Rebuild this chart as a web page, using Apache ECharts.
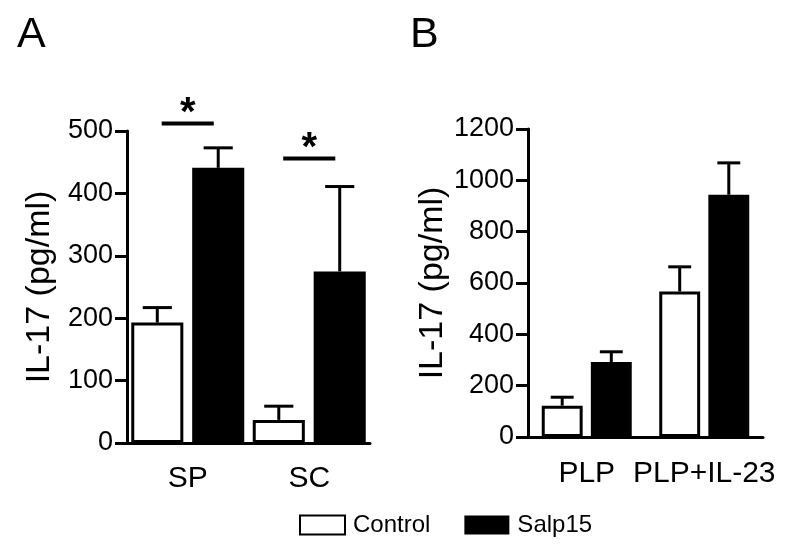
<!DOCTYPE html>
<html>
<head>
<meta charset="utf-8">
<script src="https://cdn.jsdelivr.net/npm/echarts@6/dist/echarts.min.js"></script>
<style>
html,body{margin:0;padding:0;background:#fff;}
#chart{width:800px;height:558px;}
</style>
</head>
<body>
<div id="chart"></div>
<script>
// ---- data ----
const catsA = ['SP', 'SC'];
const controlA = [193, 37];
const controlErrA = [24, 22];
const salpA = [441, 275];
const salpErrA = [32, 136];

const catsB = ['PLP', 'PLP+IL-23'];
const controlB = [122, 567];
const controlErrB = [33, 96];
const salpB = [292, 944];
const salpErrB = [40, 124];

const yMaxA = 500, yStepA = 100;
const yMaxB = 1200, yStepB = 200;

// significance marks in panel A: category index, bar level, star level
const sigCatA = [0, 1];
const sigLineA = [512, 456];
const sigStarA = [542, 486];

const seriesNames = ['Control', 'Salp15'];
const panelLabels = ['A', 'B'];
const yTitle = 'IL-17 (pg/ml)';

// ---- styles ----
const FONT = 'Liberation Sans, Arial, Helvetica, sans-serif';
const gapA = {cat: 0.07, bar: 0.17};
const gapB = {cat: 0.234, bar: 0.20};

function errRender(side, gap) {
  return function (params, api) {
    const cat = api.value(0), mean = api.value(1), err = api.value(2);
    const base = api.coord([cat, mean]);
    const top = api.coord([cat, mean + err]);
    const catW = api.size([1, 0])[0];
    const barW = catW * (1 - gap.cat) / (2 + gap.bar);
    const x = base[0] + side * barW * (1 + gap.bar) / 2;
    const capHalf = barW * 0.28;
    return {
      type: 'group',
      children: [
        {type: 'line', shape: {x1: x, y1: base[1], x2: x, y2: top[1]}, style: {stroke: '#000', lineWidth: 3}},
        {type: 'line', shape: {x1: x - capHalf, y1: top[1], x2: x + capHalf, y2: top[1]}, style: {stroke: '#000', lineWidth: 3}}
      ]
    };
  };
}

function sigRender(gap) {
  return function (params, api) {
    const cat = api.value(0);
    const p = api.coord([cat, api.value(1)]);
    const s = api.coord([cat, api.value(2)]);
    const catW = api.size([1, 0])[0];
    const barW = catW * (1 - gap.cat) / (2 + gap.bar);
    return {
      type: 'group',
      children: [
        {type: 'line', shape: {x1: p[0] - barW / 2, y1: p[1], x2: p[0] + barW / 2, y2: p[1]}, style: {stroke: '#000', lineWidth: 4}},
        {type: 'text', x: p[0], y: s[1] + 9, style: {text: '*', fontSize: 40, fontWeight: 'bold', fontFamily: FONT, fill: '#000', align: 'center', verticalAlign: 'middle'}}
      ]
    };
  };
}

function xAxisCfg(grid, cats, margin) {
  return {
    type: 'category', gridIndex: grid, data: cats,
    axisLine: {lineStyle: {color: '#000', width: 3}},
    axisTick: {show: false},
    axisLabel: {color: '#000', fontSize: 30, fontFamily: FONT, margin: margin, interval: 0}
  };
}
function yAxisCfg(grid, max, step, nameGap) {
  return {
    type: 'value', gridIndex: grid, min: 0, max: max, interval: step,
    name: yTitle, nameLocation: 'middle', nameGap: nameGap,
    nameTextStyle: {fontSize: 34, color: '#000', fontFamily: FONT},
    axisLine: {show: true, lineStyle: {color: '#000', width: 3}},
    axisTick: {show: true, length: 12, lineStyle: {color: '#000', width: 3}},
    axisLabel: {color: '#000', fontSize: 27, fontFamily: FONT, margin: 14,
                formatter: function (v) { return String(v); }},
    splitLine: {show: false}
  };
}

const ctrlStyle = {color: '#fff', borderColor: '#000', borderWidth: 3};
const salpStyle = {color: '#000', borderColor: '#000', borderWidth: 0};

const option = {
  animation: false,
  backgroundColor: '#fff',
  textStyle: {fontFamily: FONT},
  graphic: [
    {type: 'text', left: 17, top: 14, style: {text: panelLabels[0], fontSize: 43, fontFamily: FONT, fill: '#000'}},
    {type: 'text', left: 410, top: 14, style: {text: panelLabels[1], fontSize: 43, fontFamily: FONT, fill: '#000'}}
  ],
  legend: {
    data: seriesNames,
    left: 299, top: 513, padding: 0,
    itemWidth: 45, itemHeight: 19, itemGap: 34,
    icon: 'rect',
    textStyle: {fontSize: 24, color: '#000', fontFamily: FONT, padding: [0, 0, 0, 3]}
  },
  grid: [
    {left: 127, top: 131, width: 243, height: 312},
    {left: 528, top: 129, width: 235, height: 308}
  ],
  xAxis: [xAxisCfg(0, catsA, 21), xAxisCfg(1, catsB, 22)],
  yAxis: [yAxisCfg(0, yMaxA, yStepA, 70), yAxisCfg(1, yMaxB, yStepB, 78)],
  series: [
    {name: seriesNames[0], type: 'bar', xAxisIndex: 0, yAxisIndex: 0, data: controlA, itemStyle: ctrlStyle,
     barGap: (gapA.bar * 100) + '%', barCategoryGap: (gapA.cat * 100) + '%'},
    {name: seriesNames[1], type: 'bar', xAxisIndex: 0, yAxisIndex: 0, data: salpA, itemStyle: salpStyle,
     barGap: (gapA.bar * 100) + '%', barCategoryGap: (gapA.cat * 100) + '%'},
    {name: seriesNames[0], type: 'bar', xAxisIndex: 1, yAxisIndex: 1, data: controlB, itemStyle: ctrlStyle,
     barGap: (gapB.bar * 100) + '%', barCategoryGap: (gapB.cat * 100) + '%'},
    {name: seriesNames[1], type: 'bar', xAxisIndex: 1, yAxisIndex: 1, data: salpB, itemStyle: salpStyle,
     barGap: (gapB.bar * 100) + '%', barCategoryGap: (gapB.cat * 100) + '%'},
    {type: 'custom', xAxisIndex: 0, yAxisIndex: 0, renderItem: errRender(-1, gapA), z: 3,
     data: catsA.map((c, i) => [i, controlA[i], controlErrA[i]])},
    {type: 'custom', xAxisIndex: 0, yAxisIndex: 0, renderItem: errRender(1, gapA), z: 3,
     data: catsA.map((c, i) => [i, salpA[i], salpErrA[i]])},
    {type: 'custom', xAxisIndex: 1, yAxisIndex: 1, renderItem: errRender(-1, gapB), z: 3,
     data: catsB.map((c, i) => [i, controlB[i], controlErrB[i]])},
    {type: 'custom', xAxisIndex: 1, yAxisIndex: 1, renderItem: errRender(1, gapB), z: 3,
     data: catsB.map((c, i) => [i, salpB[i], salpErrB[i]])},
    {type: 'custom', xAxisIndex: 0, yAxisIndex: 0, renderItem: sigRender(gapA), z: 3, clip: false,
     data: sigCatA.map((c, i) => [c, sigLineA[i], sigStarA[i]])}
  ]
};

const chart = echarts.init(document.getElementById('chart'), null, {renderer: 'canvas'});
chart.setOption(option);
</script>
</body>
</html>
